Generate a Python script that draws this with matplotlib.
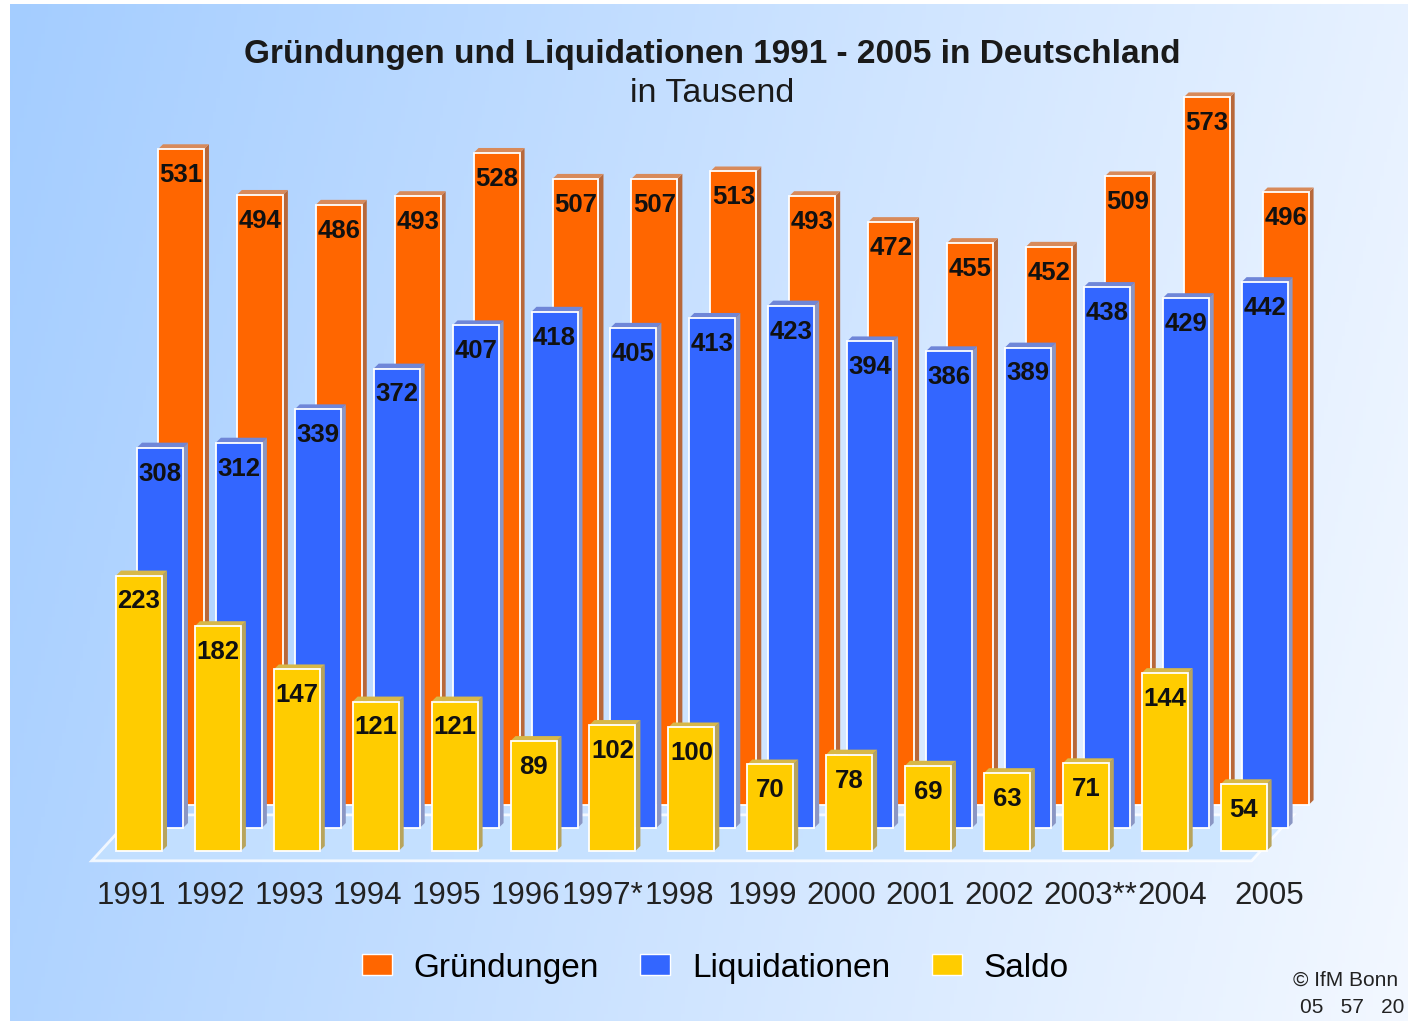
import numpy as np
import matplotlib.pyplot as plt
from matplotlib.patches import Rectangle, Polygon, Patch

plt.rcParams['font.family'] = ['Liberation Sans', 'DejaVu Sans']

# Data (in thousands)
years = ['1991', '1992', '1993', '1994', '1995', '1996', '1997*', '1998',
         '1999', '2000', '2001', '2002', '2003**', '2004', '2005']
gruendungen = [531, 494, 486, 493, 528, 507, 507, 513, 493, 472, 455, 452, 509, 573, 496]
liquidationen = [308, 312, 339, 372, 407, 418, 405, 413, 423, 394, 386, 389, 438, 429, 442]
saldo = [223, 182, 147, 121, 121, 89, 102, 100, 70, 78, 69, 63, 71, 144, 54]

# -------------------------------
# Figure + gradient background
fig = plt.figure(figsize=(14.08, 10.21), dpi=100, facecolor='white')

bg = fig.add_axes([10 / 1408, 0, 1 - 10 / 1408, 1 - 4 / 1021])
bg.axis('off')
gx = np.linspace(0, 1, 400)
gy = np.linspace(0, 1, 300)
GX, GY = np.meshgrid(gx, gy)
t = np.clip(0.85 * GX + 0.15 * GY, 0, 1)
left_c = np.array([164, 205, 255]) / 255
right_c = np.array([243, 248, 255]) / 255
img = left_c[None, None, :] * (1 - t[..., None]) + right_c[None, None, :] * t[..., None]
bg.imshow(img, aspect='auto', extent=[0, 1, 0, 1])

# main axes: x = year index, y = value
ax = fig.add_axes([0, 0, 1, 1])
ax.patch.set_alpha(0)
ax.axis('off')
ax.set_xlim(-181 / 78.9, (1408 - 181) / 78.9)
ax.set_ylim((805 - 1021) / 1.235, 805 / 1.235)

w = 0.583           # bar width
ddx, ddy = 0.063, 4.0   # depth of 3D cap/side
row_dx, row_dy = -0.266, -18.6

rows = [
    (gruendungen, '#ff6600', '#b8683a', '#d88a5a'),
    (liquidationen, '#3366ff', '#8a96c4', '#6f86d8'),
    (saldo, '#ffcc00', '#b8a45c', '#d8b848'),
]

# floor plate under the bars
fx0 = -0.532 - 0.6
fy0 = -37.2 - 8
plate = Polygon([(fx0, fy0), (13.8 - 0.532 + 0.3, fy0),
                 (13.8 + 0.3, fy0 - 2 * row_dy), (fx0 - 2 * row_dx, fy0 - 2 * row_dy)],
                closed=True, facecolor='#c6e2ff', edgecolor='white', lw=2, zorder=1, alpha=0.8)
ax.add_patch(plate)

for r, (vals, c, side_c, top_c) in enumerate(rows):
    ox, oy = r * row_dx, r * row_dy
    z = 2 + r * 2
    for i, v in enumerate(vals):
        xl = i + ox - w / 2
        xr = xl + w
        ax.add_patch(Polygon([(xr, oy), (xr + ddx, oy + ddy), (xr + ddx, oy + v + ddy), (xr, oy + v)],
                             closed=True, facecolor=side_c, edgecolor='none', zorder=z))
        ax.add_patch(Polygon([(xl, oy + v), (xl + ddx, oy + v + ddy), (xr + ddx, oy + v + ddy), (xr, oy + v)],
                             closed=True, facecolor=top_c, edgecolor='none', zorder=z))
        ax.add_patch(Rectangle((xl, oy), w, v, facecolor=c, edgecolor='white', lw=1.3, zorder=z + 0.5))
        ax.text(i + ox, oy + v - 21, str(v), ha='center', va='center',
                fontsize=18.5, fontweight='bold', color='#111111', zorder=z + 1)

# year labels
nudge = [0, 0, 0, 0, 0, 0, -0.02, -0.05, 0, 0, 0, 0, 0.16, 0.2, 0.42]
for i, lab in enumerate(years):
    ax.text(i - 0.532 - 0.1 + nudge[i], -73.5, lab, ha='center', va='center',
            fontsize=22.5, color='#222222')

# titles
fig.text(0.506, 1 - 55 / 1021, 'Gründungen und Liquidationen 1991 - 2005 in Deutschland',
         ha='center', va='center', fontsize=24, fontweight='bold', color='#1a1a1a')
fig.text(0.506, 1 - 93 / 1021, 'in Tausend', ha='center', va='center',
         fontsize=24.5, color='#1a1a1a')

# legend
handles = [Patch(facecolor='#ff6600', edgecolor='white'),
           Patch(facecolor='#3366ff', edgecolor='white'),
           Patch(facecolor='#ffcc00', edgecolor='white')]
fig.legend(handles, ['Gründungen', 'Liquidationen', 'Saldo'], loc='center',
           bbox_to_anchor=(0.508, 1 - 968 / 1021), ncol=3, frameon=False, fontsize=24,
           handlelength=0.9, handleheight=0.6, handletextpad=0.65, columnspacing=1.25)

# source note
fig.text(1293 / 1408, 1 - 980 / 1021, '© IfM Bonn', ha='left', va='center', fontsize=15, color='#222222')
fig.text(1300 / 1408, 1 - 1007 / 1021, '05   57   20', ha='left', va='center', fontsize=15, color='#222222')

plt.savefig('out.png', dpi=100)
